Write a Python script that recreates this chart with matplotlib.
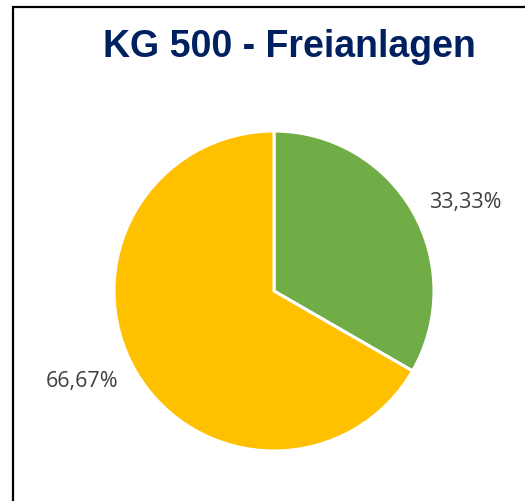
import matplotlib
matplotlib.use("Agg")
import matplotlib.pyplot as plt
from matplotlib.patches import Rectangle

title = "KG 500 - Freianlagen"
categories = ["A", "B"]
values = [33.33, 66.67]
colors = ["#70AD47", "#FFC000"]

def fmt(v):
    return f"{v:.2f}".replace(".", ",") + "%"

fig = plt.figure(figsize=(5.25, 5.02), dpi=100)
fig.patch.set_facecolor("white")

# border frame (extends beyond right/bottom edges)
fig.add_artist(Rectangle((12.5 / 525, -0.05), 1.2, (502 - 7.5) / 502 + 0.05,
                         transform=fig.transFigure, fill=False,
                         edgecolor="black", linewidth=1.6))

fig.text(289 / 525, 1 - 47 / 502, title, ha="center", va="center",
         fontsize=27, fontweight="bold", color="#002060",
         family=["Liberation Sans", "DejaVu Sans"])

ax = fig.add_axes([(274 - 160) / 525, (502 - 452) / 502, 320 / 525, 320 / 502])
wedges, texts = ax.pie(values, colors=colors, startangle=90, counterclock=False,
                       labels=[fmt(v) for v in values], labeldistance=1.12,
                       wedgeprops=dict(edgecolor="white", linewidth=2.2),
                       textprops=dict(fontsize=15.5, color="#404040",
                                      family=["Open Sans", "DejaVu Sans"]))
ax.set_xlim(-1, 1)
ax.set_ylim(-1, 1)
ax.set_aspect("equal")
ax.axis("off")

fig.savefig("out.png", dpi=100, facecolor="white")
